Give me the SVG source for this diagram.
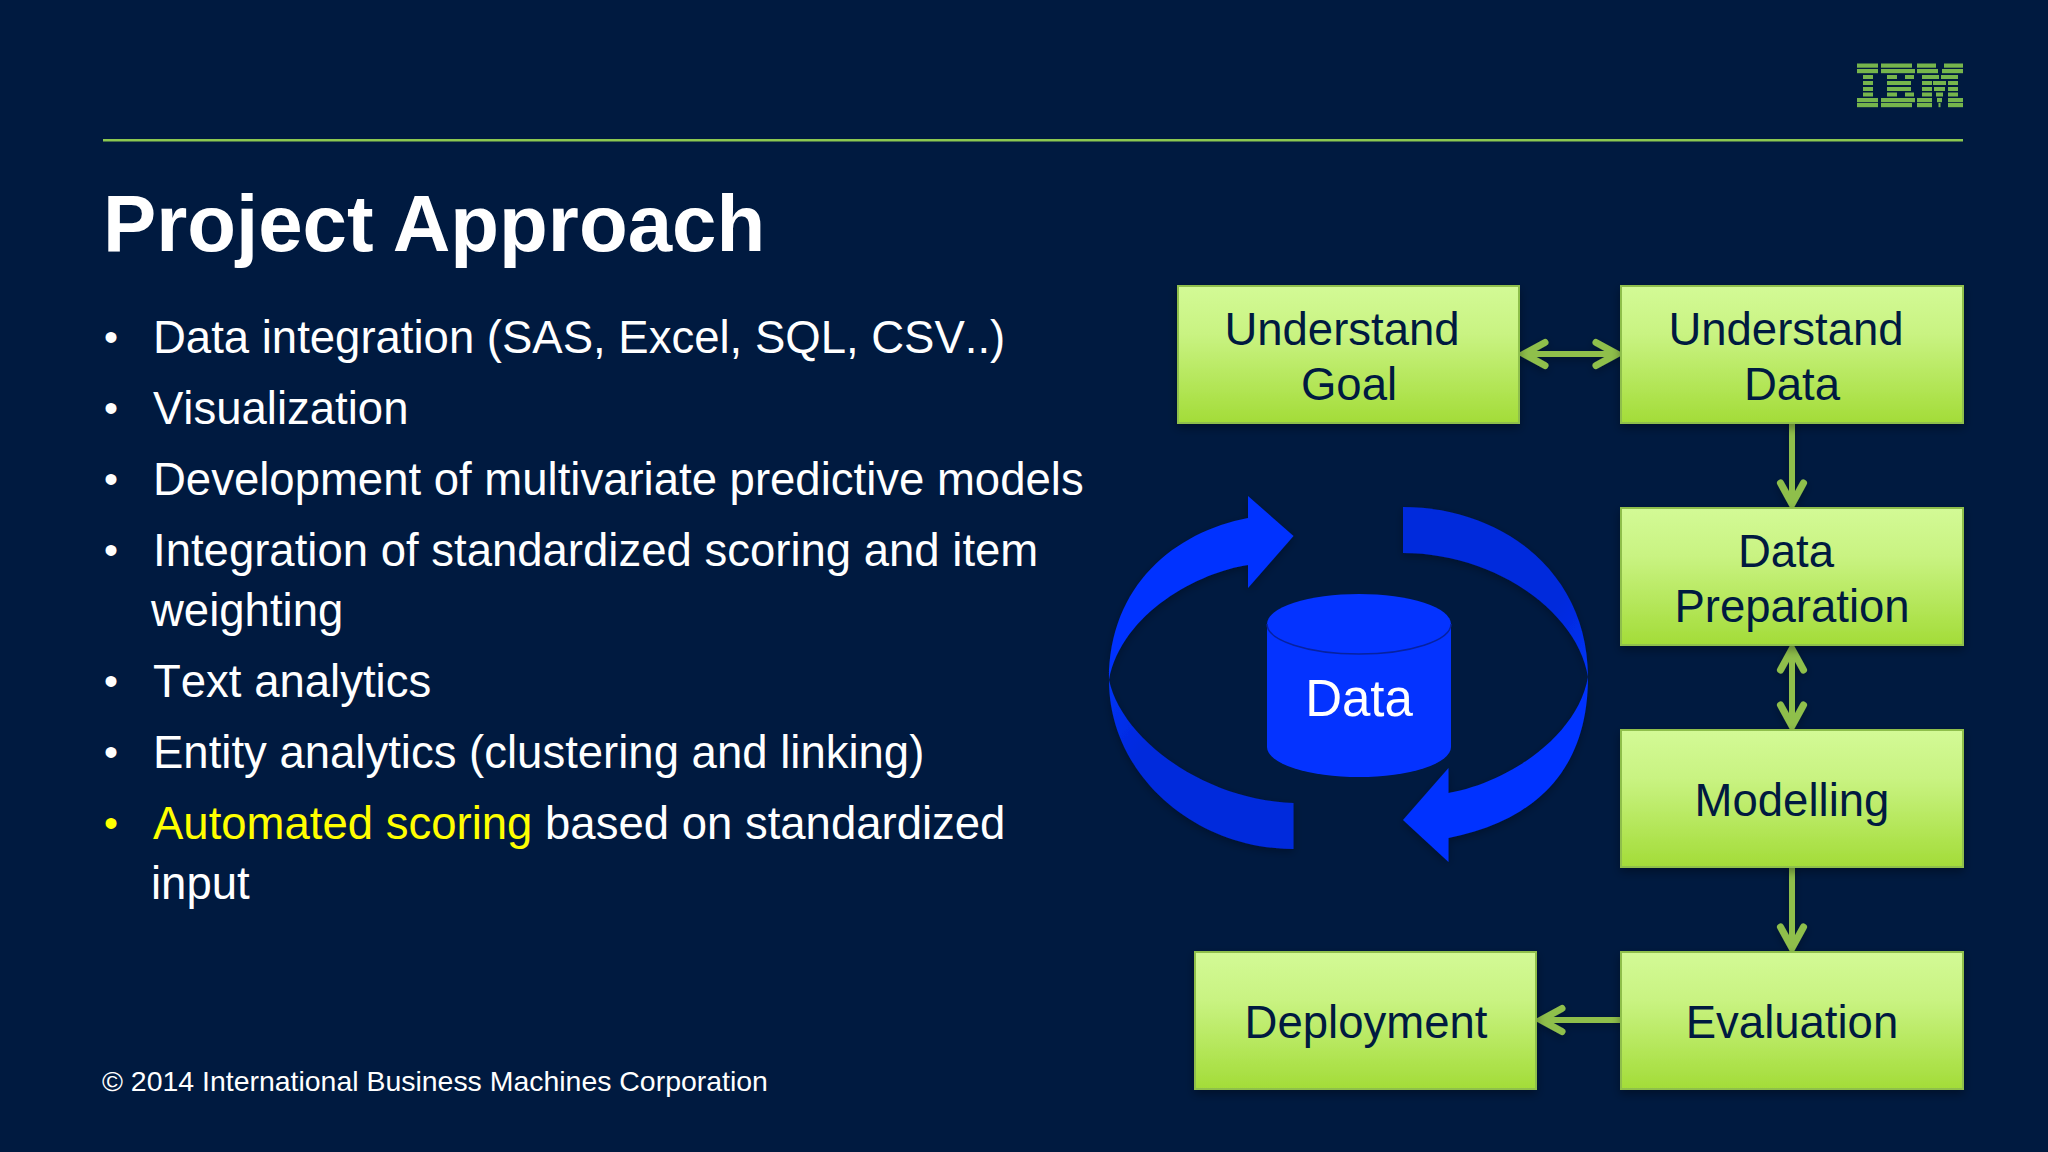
<svg xmlns="http://www.w3.org/2000/svg" width="2048" height="1152" viewBox="0 0 2048 1152">
<style>
text{font-family:"Liberation Sans",Arial,sans-serif}
.b{font-size:45.5px;fill:#fff;font-kerning:none}
.d{font-size:40px;fill:#fff;text-anchor:middle}
.n{font-size:45.5px;fill:#001a40;text-anchor:middle}
.box{fill:url(#g);stroke:#8fbf4c;stroke-width:2;filter:url(#s)}
.c{fill:none;stroke:#8fbf4c;stroke-width:6}
.logo rect{fill:#76b54c}
</style>
<defs>
<linearGradient id="g" x1="0" y1="0" x2="0" y2="1"><stop offset="0" stop-color="#d3fa96"/><stop offset=".35" stop-color="#c9f382"/><stop offset="1" stop-color="#a3dc38"/></linearGradient>
<linearGradient id="lg" gradientUnits="userSpaceOnUse" x1="1109" y1="680" x2="1293" y2="826"><stop offset="0" stop-color="#0433f8"/><stop offset=".3" stop-color="#0529dc"/><stop offset="1" stop-color="#0529dc"/></linearGradient>
<linearGradient id="rg" gradientUnits="userSpaceOnUse" x1="1588" y1="680" x2="1403" y2="530"><stop offset="0" stop-color="#0433f8"/><stop offset=".3" stop-color="#0529dc"/><stop offset="1" stop-color="#0529dc"/></linearGradient>
<filter id="s" x="-10%" y="-10%" width="120%" height="125%"><feDropShadow dx="0" dy="4" stdDeviation="5" flood-color="#000" flood-opacity=".35"/></filter>
<filter id="s2" filterUnits="userSpaceOnUse" x="0" y="0" width="2048" height="1152"><feDropShadow dx="0" dy="3" stdDeviation="4" flood-color="#000" flood-opacity=".3"/></filter>
<marker id="a" markerUnits="userSpaceOnUse" markerWidth="40" markerHeight="40" viewBox="-36 -20 40 40" refX="0" refY="0" orient="auto-start-reverse"><path d="M-23-11.500-2 0-23 11.500" fill="none" stroke="#8fbf4c" stroke-width="7" stroke-linecap="round" stroke-linejoin="miter"/></marker>
</defs>
<rect width="2048" height="1152" fill="#001a40"/>
<rect id="rule" x="103" y="139" width="1860" height="2.500" fill="#8cc850"/>
<g id="ibm-logo" class="logo">
<rect x="1857" y="63.500" width="21" height="4.200"/><rect x="1881" y="63.500" width="31" height="4.200"/><rect x="1917" y="63.500" width="19" height="4.200"/><rect x="1944" y="63.500" width="19" height="4.200"/>
<rect x="1857" y="69" width="21" height="4.200"/><rect x="1881" y="69" width="34" height="4.200"/><rect x="1917" y="69" width="21" height="4.200"/><rect x="1942" y="69" width="21" height="4.200"/>
<rect x="1863" y="75" width="10" height="4"/><rect x="1887" y="75" width="10" height="4"/><rect x="1905" y="75" width="9" height="4"/><rect x="1922" y="75" width="17" height="4"/><rect x="1941" y="75" width="17" height="4"/>
<rect x="1863" y="81" width="10" height="4"/><rect x="1887" y="81" width="24" height="4"/><rect x="1922" y="81" width="10" height="4"/><rect x="1933" y="81" width="13" height="4"/><rect x="1948" y="81" width="10" height="4"/>
<rect x="1863" y="87" width="10" height="4"/><rect x="1887" y="87" width="24" height="4"/><rect x="1922" y="87" width="10" height="4"/><rect x="1934" y="87" width="11" height="4"/><rect x="1948" y="87" width="10" height="4"/>
<rect x="1863" y="92.500" width="10" height="4"/><rect x="1887" y="92.500" width="10" height="4"/><rect x="1905" y="92.500" width="9" height="4"/><rect x="1922" y="92.500" width="10" height="4"/><rect x="1936" y="92.500" width="7" height="4"/><rect x="1948" y="92.500" width="10" height="4"/>
<rect x="1857" y="98" width="21" height="4.200"/><rect x="1881" y="98" width="34" height="4.200"/><rect x="1917" y="98" width="15" height="4.200"/><rect x="1937" y="98" width="5" height="4.200"/><rect x="1948" y="98" width="15" height="4.200"/>
<rect x="1857" y="103" width="21" height="4.200"/><rect x="1881" y="103" width="31" height="4.200"/><rect x="1917" y="103" width="15" height="4.200"/><rect x="1938.500" y="103" width="2" height="4.200"/><rect x="1948" y="103" width="15" height="4.200"/>
</g>
<text id="title" x="103" y="251" font-size="79.800" font-weight="700" fill="#fff">Project Approach</text>
<g id="bullets">
<text class="d" x="111" y="351">•</text><text class="b" x="153" y="353">Data integration (SAS, Excel, SQL, CSV..)</text>
<text class="d" x="111" y="422">•</text><text class="b" x="153" y="424">Visualization</text>
<text class="d" x="111" y="493">•</text><text class="b" x="153" y="495">Development of multivariate predictive models</text>
<text class="d" x="111" y="564">•</text><text class="b" x="153" y="566">Integration of standardized scoring and item</text>
<text class="b" x="151" y="626">weighting</text>
<text class="d" x="111" y="695">•</text><text class="b" x="153" y="697">Text analytics</text>
<text class="d" x="111" y="766">•</text><text class="b" x="153" y="768">Entity analytics (clustering and linking)</text>
<text class="d" x="111" y="837" style="fill:#ffff00">•</text><text class="b" x="153" y="839"><tspan fill="#ffff00">Automated scoring</tspan> based on standardized</text>
<text class="b" x="151" y="899">input</text>
</g>
<text id="copyright" x="102" y="1091" font-size="28.450" fill="#fff">© 2014 International Business Machines Corporation</text>
<g id="connectors" filter="url(#s2)">
<path class="c" d="M1522 354H1619" marker-start="url(#a)" marker-end="url(#a)"/>
<path class="c" d="M1792 420V506" marker-end="url(#a)"/>
<path class="c" d="M1792 647V728" marker-start="url(#a)" marker-end="url(#a)"/>
<path class="c" d="M1792 864V950" marker-end="url(#a)"/>
<path class="c" d="M1624 1020H1539" marker-end="url(#a)"/>
</g>
<g id="understand-goal"><rect class="box" x="1178" y="286" width="341" height="137"/><text class="n" x="1342" y="345">Understand</text><text class="n" x="1349" y="400">Goal</text></g>
<g id="understand-data"><rect class="box" x="1621" y="286" width="342" height="137"/><text class="n" x="1786" y="345">Understand</text><text class="n" x="1792" y="400">Data</text></g>
<g id="data-preparation"><rect class="box" x="1621" y="508" width="342" height="137"/><text class="n" x="1786" y="567">Data</text><text class="n" x="1792" y="622">Preparation</text></g>
<g id="modelling"><rect class="box" x="1621" y="730" width="342" height="137"/><text class="n" x="1792" y="816">Modelling</text></g>
<g id="evaluation"><rect class="box" x="1621" y="952" width="342" height="137"/><text class="n" x="1792" y="1038">Evaluation</text></g>
<g id="deployment"><rect class="box" x="1195" y="952" width="341" height="137"/><text class="n" x="1366" y="1038">Deployment</text></g>
<g id="cycle" filter="url(#s2)">
<path fill="url(#lg)" d="M1109 680C1109 775 1195 849 1293.500 849V803C1205 800 1122 740 1109 680Z"/>
<path fill="#0433ff" d="M1109 680C1109 585 1175 532 1248 518V496L1293.500 536 1248 588V565C1200 572 1122 612 1109 680Z"/>
<path fill="url(#rg)" d="M1588 677C1588 570 1500 507 1403 507V553C1495 553 1578 612 1588 677Z"/>
<path fill="#0433ff" d="M1588 677C1588 775 1530 822 1448.500 838V862L1403 820 1448.500 768V793C1510 782 1578 735 1588 677Z"/>
</g>
<g id="data-cylinder">
<path fill="#0433ff" d="M1267 624A92 30 0 0 1 1451 624V747A92 30 0 0 1 1267 747Z"/>
<path fill="none" stroke="#0722a0" stroke-width="1.500" d="M1267 624A92 30 0 0 0 1451 624"/>
<text x="1359" y="716" font-size="51" fill="#fff" text-anchor="middle">Data</text>
</g>
</svg>
